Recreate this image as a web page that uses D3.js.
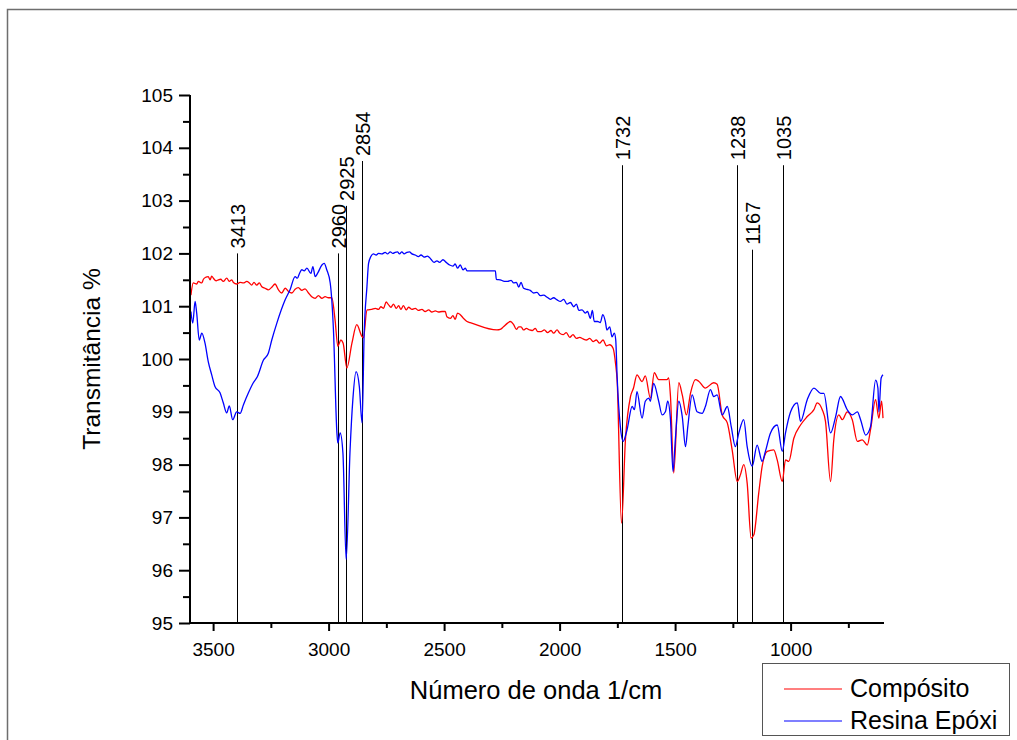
<!DOCTYPE html>
<html>
<head>
<meta charset="utf-8">
<script src="https://cdn.jsdelivr.net/npm/d3@7/dist/d3.min.js"></script>
<style>
  html, body { margin: 0; padding: 0; background: #fff; }
  svg text { font-family: "Liberation Sans", Arial, sans-serif; fill: #000; }
</style>
</head>
<body>
<svg id="chart" width="1017" height="740"></svg>
<script>
// ---- Data ----
const compWn = [3596,3586,3571,3564,3549,3542,3531,3521,3513,3506,3499,3487,3477,3467,3456,3441,3430,3419,3412,3398,3383,3369,3354,3343,3333,3323,3311,3300,3289,3275,3261,3246,3232,3217,3203,3188,3174,3159,3145,3131,3116,3102,3087,3073,3058,3044,3029,3015,3001,2986,
  2972,2960,2947,2937,2921,2899,2878,2856,2849,2834,
  2827,2813,2798,2784,2774,2762,2751,2741,2730,2719,2707,2697,2687,2676,2664,2654,2639,2625,2611,2596,2582,2567,2553,2538,2524,2509,2495,2488,2473,2462,2452,2442,2430,2416,2401,2387,2271,2257,2243,2228,2213,2199,2187,2177,2167,2156,2144,2130,2119,2105,2095,2080,2066,2052,2037,2026,2011,2000,1985,1971,1956,1942,1927,1913,1898,1884,1870,1855,1841,1827,1812,1797,1783,1768,1758,
  1751,1732,1715,1693,1680,1665,1643,1629,1607,1590,1571,1535,1528,1520,1506,1484,1469,1451,1433,1412,1398,1369,1333,1318,1296,1274,1253,1231,1217,1203,1188,1171,1159,1138,1123,1101,1073,1058,1036,1022,1008,986,957,928,899,885,863,849,827,813,791,776,755,733,711,690,668,654,632,618,606,600];
const compT  = [101.21,101.44,101.42,101.47,101.44,101.51,101.55,101.56,101.5,101.57,101.53,101.48,101.5,101.51,101.47,101.53,101.47,101.5,101.45,101.42,101.45,101.44,101.47,101.44,101.4,101.45,101.4,101.44,101.37,101.34,101.31,101.36,101.42,101.31,101.25,101.34,101.28,101.25,101.32,101.35,101.3,101.33,101.25,101.18,101.15,101.2,101.15,101.18,101.16,101.16,
  100.74,100.24,100.36,100.3,99.83,100.3,100.65,100.43,100.4,100.93,
  100.93,100.94,100.96,100.94,100.99,100.96,101.08,101.03,100.98,101.04,100.96,101.01,100.94,101.01,100.93,100.98,100.94,100.96,100.92,100.94,100.9,100.93,100.89,100.91,100.89,100.9,100.9,100.8,100.77,100.82,100.75,100.87,100.84,100.77,100.71,100.69,100.55,100.56,100.61,100.67,100.71,100.65,100.56,100.61,100.61,100.55,100.58,100.55,100.54,100.58,100.52,100.52,100.55,100.5,100.54,100.49,100.55,100.49,100.46,100.5,100.41,100.46,100.39,100.41,100.38,100.36,100.39,100.33,100.36,100.3,100.36,100.25,100.27,100.2,99.92,
  99.6,96.89,98.47,99.29,99.45,99.7,99.57,99.68,99.26,99.74,99.61,99.61,99.64,99.29,97.84,99.55,99.32,98.94,99.36,99.61,99.58,99.45,99.55,99.52,98.94,98.79,98.28,97.68,97.81,98.0,97.65,96.61,96.67,97.46,97.97,98.25,98.28,98.09,97.68,98.09,98.06,98.5,98.75,98.91,99.04,99.17,99.04,98.82,97.68,98.47,98.94,98.85,99.0,98.85,98.44,98.47,98.37,98.66,99.23,98.88,99.2,98.88];

const resinWn = [3596,3588,3578,3571,3560,3549,3535,3521,3506,3492,3470,3456,3441,3430,3415,3398,3383,3369,3347,3326,3308,3282,3261,3246,3224,3188,3167,3145,3135,3126,3116,3106,3094,3077,3068,3058,3048,3029,3019,3008,2993,2979,2964,2960,2950,2938,2924,2907,2895,2881,2867,2855,2846,2834,
  2827,2817,2806,2794,2784,2769,2755,2745,2733,2722,2712,2702,2693,2683,2673,2661,2650,2639,2625,2611,2600,2586,2572,2557,2543,2531,2520,2505,2491,2476,2462,2452,2442,2430,2418,2408,2401,2278,2274,2257,2239,2225,2210,2199,2187,2177,2167,2156,2141,2127,2112,2098,2083,2069,2054,2040,2026,2011,1997,1982,1968,1953,1939,1927,1917,1903,1889,1879,1867,1858,1850,1835,1824,1813,1802,1795,1783,1773,1763,1757,
  1751,1737,1725,1708,1686,1676,1665,1643,1629,1614,1607,1593,1571,1556,1542,1532,1520,1509,1499,1484,1469,1455,1445,1426,1405,1383,1369,1347,1333,1318,1296,1274,1257,1239,1224,1203,1188,1166,1145,1123,1109,1087,1058,1036,1022,1000,971,957,928,899,870,856,827,805,784,755,733,711,697,675,654,632,622,618,608,600];
const resinT  = [100.9,100.68,101.09,100.87,100.36,100.49,100.3,99.95,99.7,99.48,99.36,99.17,98.98,99.11,98.85,99.0,98.97,99.13,99.36,99.55,99.67,99.98,100.11,100.36,100.68,101.12,101.31,101.56,101.53,101.62,101.69,101.67,101.72,101.62,101.75,101.56,101.62,101.78,101.81,101.69,101.44,100.55,98.6,98.41,98.6,98.22,96.2,98.28,99.23,99.76,99.48,98.79,100.49,101.37,
  101.81,101.94,101.99,101.97,102.0,101.99,102.02,101.99,102.03,102.0,102.02,102.03,101.99,102.03,101.99,102.02,102.03,101.99,101.97,101.94,101.97,101.93,101.95,101.89,101.83,101.86,101.83,101.88,101.83,101.78,101.76,101.8,101.72,101.78,101.69,101.72,101.67,101.67,101.51,101.5,101.47,101.47,101.49,101.44,101.45,101.36,101.45,101.34,101.32,101.3,101.25,101.26,101.2,101.21,101.17,101.13,101.16,101.12,101.09,101.13,101.04,101.07,100.99,101.04,100.92,100.93,100.87,100.9,100.77,100.92,100.71,100.71,100.69,100.84,100.71,100.55,100.61,100.42,100.49,100.36,
  99.67,98.72,98.44,98.66,99.1,99.04,99.38,98.88,99.2,99.26,99.2,99.54,99.2,98.94,99.0,99.2,98.85,97.87,98.47,99.2,98.91,98.34,98.72,99.32,99.0,98.97,99.1,99.42,99.29,99.32,98.94,99.1,98.72,98.34,98.6,98.85,98.34,97.97,98.37,98.06,98.25,98.6,98.75,98.25,98.6,99.0,99.17,98.82,99.23,99.45,99.35,99.35,98.6,98.91,99.29,99.04,98.94,99.0,98.85,98.56,98.72,99.6,99.45,99.0,99.64,99.7];

const seriesNames = ["Compósito", "Resina Epóxi"];
const seriesColors = ["#ff0000", "#0000ff"];

const peakLabels = ["3413","2960","2925","2854","1732","1238","1167","1035"];
const peakWn     = [3397, 2960, 2925, 2854, 1730, 1232, 1168, 1035];
const peakTop    = [102.0, 102.0, 102.9, 103.75, 103.67, 103.67, 102.07, 103.67];

const xMajorTicks = [3500, 3000, 2500, 2000, 1500, 1000];
const xMinorTicks = [3250, 2750, 2250, 1750, 1250, 750];
const yMajorTicks = [95, 96, 97, 98, 99, 100, 101, 102, 103, 104, 105];
const yMinorTicks = [95.5, 96.5, 97.5, 98.5, 99.5, 100.5, 101.5, 102.5, 103.5, 104.5];

const xTitle = "Número de onda 1/cm";
const yTitle = "Transmitância %";

// ---- Layout ----
const svg = d3.select("#chart");
const plot = { left: 190, right: 883, top: 95, bottom: 623 };
const x = d3.scaleLinear().domain([3600, 600]).range([plot.left, plot.right]);
const y = d3.scaleLinear().domain([95, 105]).range([plot.bottom, plot.top]);

// outer frame
svg.append("path")
  .attr("d", `M7.5,740 V9.5 H1017`)
  .attr("fill", "none").attr("stroke", "#6e6e6e").attr("stroke-width", 1.5);

// clip
svg.append("clipPath").attr("id", "clip")
  .append("rect").attr("x", plot.left).attr("y", plot.top - 5)
  .attr("width", plot.right - plot.left + 2).attr("height", plot.bottom - plot.top + 5);

// peak marker lines
const peaks = peakLabels.map((l, i) => ({ label: l, wn: peakWn[i], top: peakTop[i] }));
const pg = svg.append("g");
pg.selectAll("line").data(peaks).join("line")
  .attr("x1", d => Math.round(x(d.wn)) + 0.5).attr("x2", d => Math.round(x(d.wn)) + 0.5)
  .attr("y1", plot.bottom).attr("y2", d => y(d.top))
  .attr("stroke", "#000").attr("stroke-width", 1);
pg.selectAll("text").data(peaks).join("text")
  .attr("transform", d => `translate(${Math.round(x(d.wn)) + 1},${y(d.top) - 5}) rotate(-90)`)
  .attr("dy", "0.36em")
  .attr("text-anchor", "start")
  .style("font-size", "20px")
  .text(d => d.label);

// series
const line = d3.line().x(d => x(d[0])).y(d => y(d[1])).curve(d3.curveMonotoneX);
const seriesData = [
  d3.zip(compWn, compT),
  d3.zip(resinWn, resinT)
];
const sg = svg.append("g").attr("clip-path", "url(#clip)");
[0, 1].forEach(i => {
  sg.append("path")
    .datum(seriesData[i].slice().sort((a, b) => a[0] - b[0]))
    .attr("fill", "none")
    .attr("stroke", seriesColors[i])
    .attr("stroke-width", 1.3)
    .attr("stroke-linejoin", "round")
    .attr("d", line);
});

// axes
const xAxis = d3.axisBottom(x).tickValues(xMajorTicks).tickSize(8).tickPadding(12).tickFormat(d3.format("d"));
const xAxisMinor = d3.axisBottom(x).tickValues(xMinorTicks).tickSize(5).tickFormat("");
const yAxis = d3.axisLeft(y).tickValues(yMajorTicks).tickSize(11).tickPadding(6).tickFormat(d3.format("d"));
const yAxisMinor = d3.axisLeft(y).tickValues(yMinorTicks).tickSize(7).tickFormat("");

function styleAxis(g) {
  g.select(".domain").remove();
  g.selectAll(".tick line").attr("stroke", "#000").attr("stroke-width", 2);
  g.selectAll(".tick text").style("font-size", "19px").style("font-family", "Liberation Sans, Arial, sans-serif").attr("fill", "#000");
}
svg.append("g").attr("transform", `translate(0,${plot.bottom})`).call(xAxisMinor).call(styleAxis);
svg.append("g").attr("transform", `translate(0,${plot.bottom})`).call(xAxis).call(styleAxis);
svg.append("g").attr("transform", `translate(${plot.left},0)`).call(yAxisMinor).call(styleAxis);
svg.append("g").attr("transform", `translate(${plot.left},0)`).call(yAxis).call(styleAxis);

// axis lines
svg.append("line").attr("x1", plot.left).attr("x2", plot.left).attr("y1", plot.top).attr("y2", plot.bottom + 1)
  .attr("stroke", "#000").attr("stroke-width", 2);
svg.append("line").attr("x1", plot.left - 1).attr("x2", plot.right + 1).attr("y1", plot.bottom).attr("y2", plot.bottom)
  .attr("stroke", "#000").attr("stroke-width", 2);

// axis titles
svg.append("text").attr("x", 536).attr("y", 699).attr("text-anchor", "middle")
  .style("font-size", "25.5px").text(xTitle);
svg.append("text").attr("transform", `translate(100,${y(100)}) rotate(-90)`).attr("text-anchor", "middle")
  .style("font-size", "24.5px").text(yTitle);

// legend
const lg = svg.append("g");
lg.append("rect").attr("x", 762.5).attr("y", 663.5).attr("width", 247).attr("height", 72)
  .attr("fill", "#fff").attr("stroke", "#555").attr("stroke-width", 1);
seriesNames.forEach((n, i) => {
  const ly = 689 + i * 32;
  lg.append("line").attr("x1", 784).attr("x2", 842).attr("y1", ly).attr("y2", ly)
    .attr("stroke", seriesColors[i]).attr("stroke-width", 1.2);
  lg.append("text").attr("x", 850).attr("y", ly + 8).style("font-size", "25px").text(n);
});
</script>
</body>
</html>
